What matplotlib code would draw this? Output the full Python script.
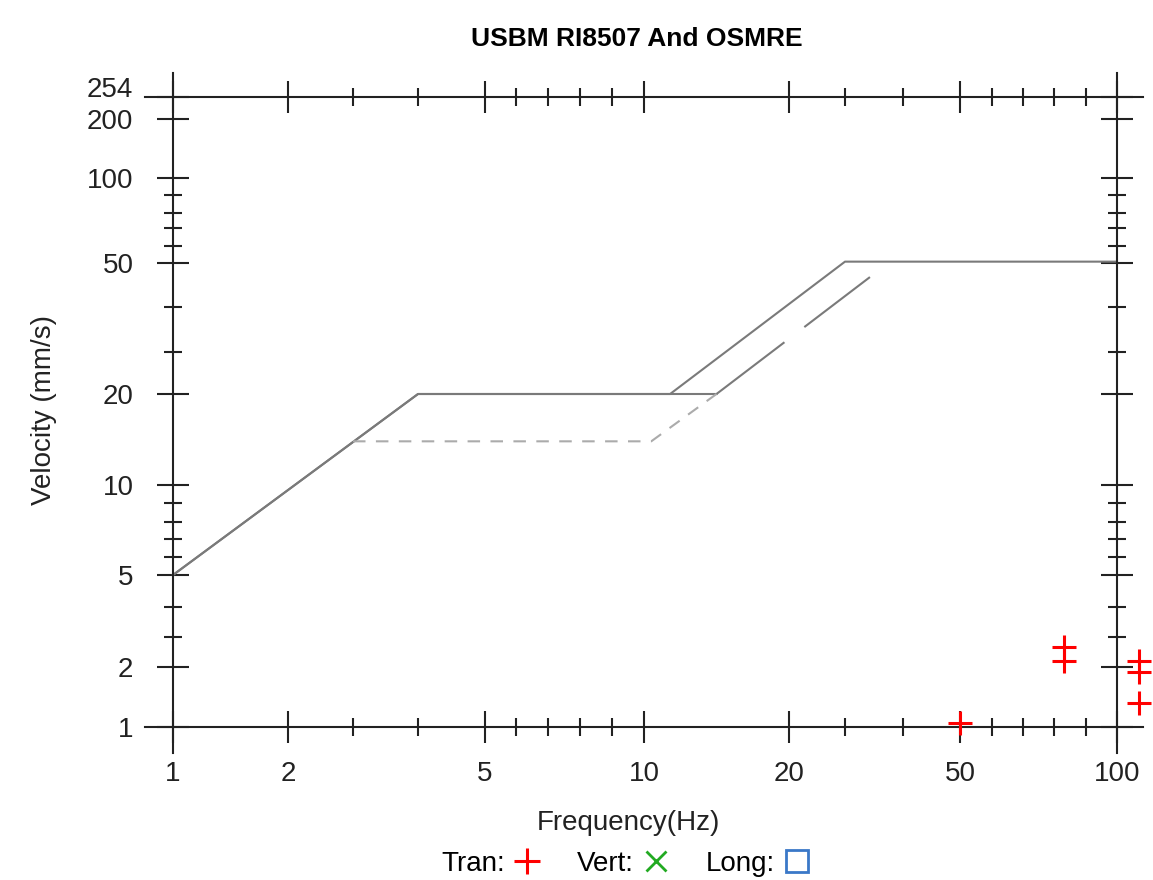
import numpy as np
import matplotlib
matplotlib.use('Agg')
import matplotlib.pyplot as plt

plt.rcParams['font.family'] = ['Liberation Sans', 'DejaVu Sans']

# criteria lines (frequency Hz, velocity mm/s)
osmre_f = [1, 4, 11.8, 30, 100]
osmre_v = [5, 20, 20, 50.8, 50.8]
usbm_f = [1, 4, 15, 34.3]
usbm_v = [5, 20, 20, 46.8]
plaster_f = [3, 10.5, 15]
plaster_v = [14.8, 14.8, 20]

# measured peaks
tran_f = [50, 83, 83, 107, 107, 107]
tran_v = [1.07, 2.67, 2.2, 2.2, 1.92, 1.4]
vert_f, vert_v = [], []
long_f, long_v = [], []

x_major = [1, 2, 5, 10, 20, 50, 100]
x_minor = [3, 4, 6, 7, 8, 9, 30, 40, 60, 70, 80, 90]
y_major = [1, 2, 5, 10, 20, 50, 100, 200, 254]
y_minor = [3, 4, 6, 7, 8, 9, 30, 40, 60, 70, 80, 90]

# the chart's axes are piecewise between tick values (pixel anchors)
x_anchor = [1, 2, 3, 4, 5, 6, 7, 8, 9, 10, 20, 30, 40, 50, 60, 70, 80, 90, 100]
x_anchor_px = [173, 288, 353, 418, 485, 516, 548, 580, 612, 644, 789, 845, 903, 960, 992, 1023, 1054, 1086, 1117]
y_anchor = [1, 2, 3, 4, 5, 6, 7, 8, 9, 10, 20, 30, 40, 50, 60, 70, 80, 90, 100, 200, 254]
y_anchor_px = [727, 667, 637, 607, 575, 557, 539, 522, 503, 485, 394, 352, 307, 263, 246, 228, 213, 195, 178, 119, 97]

W, H = 1153, 880
AX_L, AX_R, AX_T, AX_B = 145, 1143, 73, 753


def piecewise(xp, fp):
    xp = np.asarray(xp, float)
    fp = np.asarray(fp, float)
    lo = (fp[1] - fp[0]) / (xp[1] - xp[0])
    hi = (fp[-1] - fp[-2]) / (xp[-1] - xp[-2])

    def f(v):
        v = np.asarray(v, dtype=float)
        out = np.interp(v, xp, fp)
        out = np.where(v < xp[0], fp[0] + (v - xp[0]) * lo, out)
        out = np.where(v > xp[-1], fp[-1] + (v - xp[-1]) * hi, out)
        return out
    return f


x_fwd = piecewise(x_anchor, x_anchor_px)
x_inv = piecewise(x_anchor_px, x_anchor)
y_neg = -np.array(y_anchor_px, float)
y_fwd = piecewise(y_anchor, y_neg)
y_inv = piecewise(y_neg, y_anchor)

fig = plt.figure(figsize=(W / 100, H / 100), dpi=100)
ax = fig.add_axes([AX_L / W, 1 - AX_B / H, (AX_R - AX_L) / W, (AX_B - AX_T) / H])
ax.set_xscale('function', functions=(x_fwd, x_inv))
ax.set_yscale('function', functions=(y_fwd, y_inv))
ax.set_xlim(float(x_inv(AX_L)), float(x_inv(AX_R)))
ax.set_ylim(float(y_inv(-AX_B)), float(y_inv(-AX_T)))

grey = '#7a7a7a'
ax.plot(osmre_f, osmre_v, color=grey, lw=1.5)
ax.plot(usbm_f[:3], usbm_v[:3], color=grey, lw=1.5)
ax.plot(usbm_f[2:], usbm_v[2:], color=grey, lw=1.5, dashes=(41, 12))
ax.plot(plaster_f, plaster_v, color='#ababab', lw=1.5, dashes=(6, 5))

ax.plot(tran_f, tran_v, '+', color='#ff0000', ms=17, mew=2.2, zorder=3,
        clip_on=False, label='Tran:')
ax.plot(vert_f, vert_v, 'x', color='#22aa22', ms=13, mew=2, label='Vert:')
ax.plot(long_f, long_v, 's', mfc='none', mec='#3a78c8', ms=14, mew=2, label='Long:')

# crosshair style frame
ax.spines['left'].set_position(('data', 1))
ax.spines['right'].set_position(('data', 100))
ax.spines['bottom'].set_position(('data', 1))
ax.spines['top'].set_position(('data', 254))
for s in ax.spines.values():
    s.set_linewidth(1.5)
    s.set_color('#222222')

ax.set_xticks(x_major)
ax.set_xticklabels([str(v) for v in x_major])
ax.set_xticks(x_minor, minor=True)
ax.set_yticks(y_major)
ylabels = ax.set_yticklabels([str(v) for v in y_major])
ylabels[-1].set_verticalalignment('baseline')   # 254 sits on top of its line
ax.set_yticks(y_minor, minor=True)
ax.xaxis.set_minor_formatter(plt.NullFormatter())
ax.yaxis.set_minor_formatter(plt.NullFormatter())
ax.xaxis.set_ticks_position('both')
ax.yaxis.set_ticks_position('both')
ax.tick_params(which='major', direction='inout', length=23, width=1.5,
               colors='#222222', labelsize=20)
ax.tick_params(which='minor', direction='inout', length=13, width=1.5, colors='#222222')
ax.tick_params(labeltop=False, labelright=False)
ax.tick_params(axis='x', which='major', pad=13)
ax.tick_params(axis='y', which='major', pad=17)

ax.set_title('USBM RI8507 And OSMRE', fontsize=19, fontweight='bold', pad=0,
             x=(637 - AX_L) / (AX_R - AX_L), y=(AX_B - 46) / (AX_B - AX_T), va='baseline')
ax.set_xlabel('Frequency(Hz)', fontsize=20, color='#222222')
ax.xaxis.set_label_coords((628 - AX_L) / (AX_R - AX_L), (AX_B - 810) / (AX_B - AX_T))
ax.set_ylabel('Velocity (mm/s)', fontsize=20, color='#222222')
ax.yaxis.set_label_coords((57 - AX_L) / (AX_R - AX_L), (AX_B - 410) / (AX_B - AX_T))

fig.legend(loc='center', bbox_to_anchor=(626 / W, 1 - 864 / H), ncol=3,
           markerfirst=False, frameon=False, fontsize=20, handlelength=1.0,
           handletextpad=0.3, columnspacing=1.3, markerscale=1.1)

fig.savefig('out.png', dpi=100)
